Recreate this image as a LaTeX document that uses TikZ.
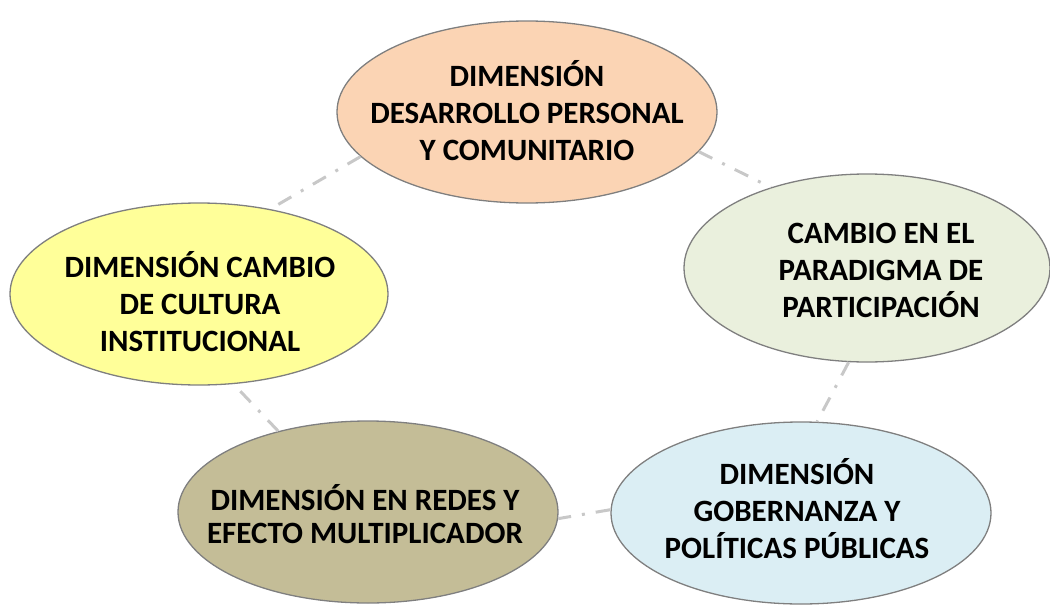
\documentclass[tikz,border=0pt]{standalone}
\usepackage{fontspec}
\setmainfont{Carlito}
\usetikzlibrary{shapes.geometric}
\definecolor{peach}{HTML}{FBD4B4}
\definecolor{sage}{HTML}{EAF0DD}
\definecolor{skyb}{HTML}{DBEEF4}
\definecolor{lemon}{HTML}{FFFF99}
\definecolor{khaki}{HTML}{C4BD97}
\definecolor{rim}{HTML}{7F7F7F}
\definecolor{connc}{HTML}{C8C8C8}
\tikzset{
  ell/.style={ellipse, draw=rim, line width=1.3pt, minimum width=380pt, minimum height=182pt, inner sep=0pt},
  txt/.style={align=center, font=\fontsize{31}{37}\selectfont\bfseries, text=black, inner sep=0pt},
  conn/.style={draw=connc, line width=3pt, dash pattern=on 15pt off 11pt on 3pt off 11pt}
}
\begin{document}
\begin{tikzpicture}[x=1pt,y=-1pt]
\useasboundingbox (0,0) rectangle (1050,605);
\node[ell, fill=peach] (p) at (527,112) {};
\node[ell, fill=sage, minimum width=366pt, minimum height=188pt] (g) at (867,268) {};
\node[ell, fill=skyb] (b) at (801,513) {};
\node[ell, fill=khaki] (k) at (368,512) {};
\node[ell, fill=lemon, minimum width=378pt] (y) at (199,294) {};
\node[txt] (pt) at (527,111) {DIMENSIÓN\\DESARROLLO PERSONAL\\Y COMUNITARIO};
\node[txt] (gt) at (881,270) {CAMBIO EN EL\\PARADIGMA DE\\PARTICIPACIÓN};
\node[txt] (bt) at (797,509) {DIMENSIÓN\\GOBERNANZA Y\\POLÍTICAS PÚBLICAS};
\node[txt, font=\fontsize{31}{33}\selectfont\bfseries] (kt) at (365,514) {DIMENSIÓN EN REDES Y\\EFECTO MULTIPLICADOR};
\node[txt] (yt) at (200,302) {DIMENSIÓN CAMBIO\\DE CULTURA\\INSTITUCIONAL};
\draw[conn] (p.195) -- (y.50);
\draw[conn] (p.347) -- (g.140);
\draw[conn] (g.259) -- (b.80);
\draw[conn] (b.179) -- (k.358);
\draw[conn] (k.138) -- (y.291);
\end{tikzpicture}
\end{document}
